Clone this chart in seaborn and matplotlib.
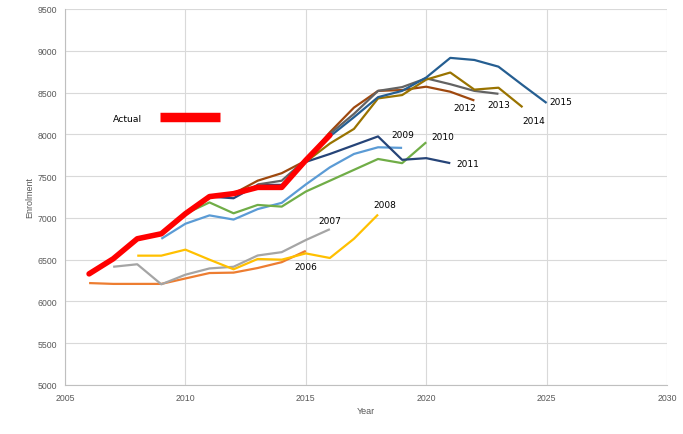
import numpy as np
import pandas as pd
import matplotlib
matplotlib.use("Agg")
import matplotlib.pyplot as plt
import seaborn as sns
from matplotlib.lines import Line2D

# ── data ──
actual_years = list(range(2006, 2017))
actual = [6330, 6510, 6750, 6810, 7050, 7255, 7290, 7365, 7365, 7690, 7990]

proj_2006 = [6220, 6210, 6210, 6210, 6275, 6340, 6345, 6400, 6470, 6605]
proj_2007 = [6415, 6445, 6205, 6320, 6395, 6415, 6550, 6590, 6735, 6865]
proj_2008 = [6548, 6548, 6620, 6500, 6385, 6508, 6500, 6575, 6520, 6750, 7040]
proj_2009 = [6750, 6930, 7030, 6980, 7105, 7180, 7400, 7605, 7765, 7845, 7838]
proj_2010 = [7050, 7185, 7055, 7155, 7135, 7315, 7445, 7575, 7705, 7655, 7905]
proj_2011 = [7255, 7235, 7395, 7395, 7670, 7765, 7870, 7975, 7695, 7715, 7655]
proj_2012 = [7290, 7445, 7535, 7685, 8025, 8320, 8520, 8530, 8570, 8510, 8405]
proj_2013 = [7400, 7445, 7700, 8005, 8245, 8520, 8565, 8670, 8600, 8520, 8485]
proj_2014 = [7365, 7670, 7890, 8065, 8430, 8470, 8655, 8740, 8535, 8558, 8325]
proj_2015 = [7690, 7975, 8205, 8445, 8520, 8680, 8915, 8890, 8810, 8590, 8375]

series_names = ["2006", "2007", "2008", "2009", "2010",
                "2011", "2012", "2013", "2014", "2015"]
series_values = [proj_2006, proj_2007, proj_2008, proj_2009, proj_2010,
                 proj_2011, proj_2012, proj_2013, proj_2014, proj_2015]

x_ticks = [2005, 2010, 2015, 2020, 2025, 2030]
y_ticks = list(range(5000, 9501, 500))

# ── styles ──
palette = {
    "2006": "#ED7D31", "2007": "#A5A5A5", "2008": "#FFC000",
    "2009": "#5B9BD5", "2010": "#70AD47", "2011": "#264478",
    "2012": "#9E480E", "2013": "#636363", "2014": "#997300",
    "2015": "#255E91",
}
# label centre offsets from each series' last point, in pixels (dx right, dy up)
label_offsets = {
    "2006": (0, -16), "2007": (0, 9), "2008": (7, 10), "2009": (1, 13),
    "2010": (17, 6), "2011": (18, 0), "2012": (-10, -7), "2013": (0, -11),
    "2014": (11, -13), "2015": (14, 1),
}

rows = []
for name, vals in zip(series_names, series_values):
    start = int(name)
    for i, v in enumerate(vals):
        rows.append({"Year": start + i, "Enrolment": v, "series": name})
proj_df = pd.DataFrame(rows)
actual_df = pd.DataFrame({"Year": actual_years, "Enrolment": actual})

sns.set_theme(style="white")
plt.rcParams["font.family"] = ["Liberation Sans", "DejaVu Sans"]

fig = plt.figure(figsize=(6.83, 4.35), dpi=100)
ax = fig.add_axes([65 / 683, 1 - 386 / 435, 602 / 683, 376 / 435])

sns.lineplot(data=proj_df, x="Year", y="Enrolment", hue="series",
             palette=palette, linewidth=1.6, legend=False, ax=ax,
             solid_capstyle="butt")
sns.lineplot(data=actual_df, x="Year", y="Enrolment", color="#FF0000",
             linewidth=4.0, ax=ax, solid_capstyle="round", zorder=5)

px2pt = 0.72
for name, vals in zip(series_names, series_values):
    last_x = int(name) + len(vals) - 1
    dx, dy = label_offsets[name]
    ax.annotate(name, xy=(last_x, vals[-1]), xytext=(dx * px2pt, dy * px2pt),
                textcoords="offset points", ha="center", va="center",
                fontsize=6.5, color="black", family="DejaVu Sans")

handle = Line2D([], [], color="#FF0000", linewidth=6.8, solid_capstyle="butt")
leg = ax.legend(handles=[handle], labels=["Actual"], markerfirst=False,
                frameon=False, loc="center left", bbox_to_anchor=(0.08, 0.71),
                borderpad=0, borderaxespad=0, handlelength=6.5,
                handletextpad=1.9, prop={"family": "DejaVu Sans", "size": 6.7})
for t in leg.get_texts():
    t.set_color("black")

ax.set_xlim(2005, 2030)
ax.set_ylim(5000, 9500)
ax.set_xticks(x_ticks)
ax.set_yticks(y_ticks)
ax.grid(True, color="#D9D9D9", linewidth=0.8)
ax.set_axisbelow(True)
for side in ["top", "right"]:
    ax.spines[side].set_visible(False)
for side in ["left", "bottom"]:
    ax.spines[side].set_color("#BFBFBF")
    ax.spines[side].set_linewidth(0.8)
ax.tick_params(axis="both", length=0, labelsize=6.3, colors="#595959", pad=6)
ax.set_xlabel("Year", fontsize=6.5, color="#595959", labelpad=3)
ax.set_ylabel("Enrolment", fontsize=6.5, color="#595959", labelpad=2)

fig.savefig("out.png", dpi=100)
